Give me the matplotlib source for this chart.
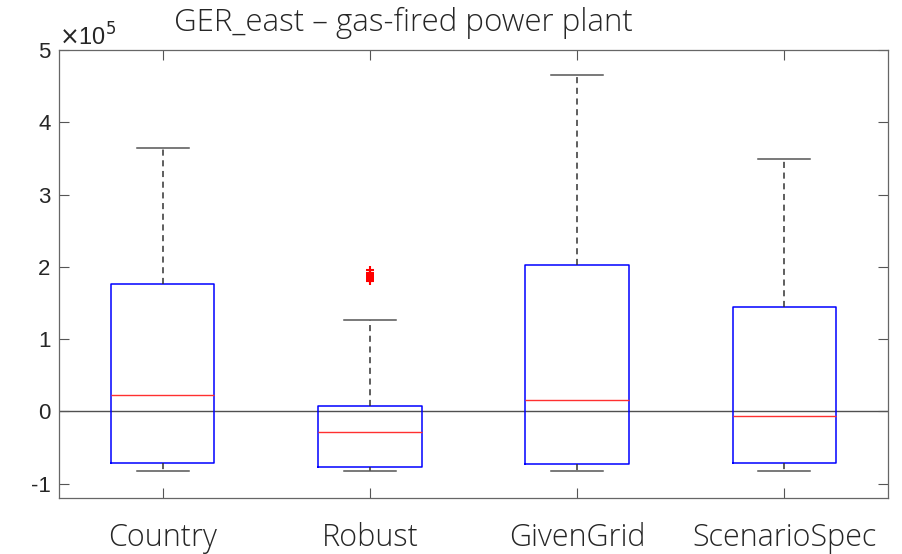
import matplotlib
matplotlib.use('Agg')
from matplotlib import pyplot as plt

# Box statistics per scenario (units of 1e5)
scenarios = ['Country', 'Robust', 'GivenGrid', 'ScenarioSpec']
whisker_low = [-0.82, -0.82, -0.82, -0.82]
quartile_1 = [-0.72, -0.77, -0.73, -0.72]
medians = [0.22, -0.29, 0.15, -0.07]
quartile_3 = [1.76, 0.08, 2.03, 1.45]
whisker_high = [3.64, 1.27, 4.65, 3.49]
outliers = [[], [1.80, 1.83, 1.86, 1.89, 1.92, 1.95], [], []]

stats = []
for i, name in enumerate(scenarios):
    stats.append({'label': name, 'whislo': whisker_low[i], 'q1': quartile_1[i],
                  'med': medians[i], 'q3': quartile_3[i],
                  'whishi': whisker_high[i], 'fliers': outliers[i]})

fig = plt.figure(figsize=(9.03, 5.54), dpi=100)
ax = fig.add_axes([59 / 903, 1 - 498 / 554, 829 / 903, 448 / 554])

ax.axhline(0, color='#505050', lw=1.0, zorder=1)
ax.bxp(stats, positions=[1, 2, 3, 4], widths=0.5, showfliers=True,
       boxprops=dict(color='#0000ff', lw=1.1),
       medianprops=dict(color='#ff3030', lw=1.0),
       whiskerprops=dict(color='#333333', lw=1.1, linestyle=(0, (4, 3))),
       capprops=dict(color='#555555', lw=1.1),
       capwidths=0.25,
       flierprops=dict(marker='+', markeredgecolor='#ff0000', markersize=6, mew=1.5))

ax.set_xlim(0.5, 4.5)
ax.set_ylim(-1.2, 5)
ax.set_yticks([-1, 0, 1, 2, 3, 4, 5])
ax.set_yticklabels(['-1', '0', '1', '2', '3', '4', '5'],
                   fontsize=16, family='Liberation Sans', color='#262626')
ax.set_xticks([1, 2, 3, 4])
ax.set_xticklabels(scenarios, fontsize=22, family='Open Sans', weight=300,
                   color='#262626')
ax.tick_params(direction='in', top=True, right=True, length=7, color='#555555',
               width=0.8)
ax.tick_params(axis='x', pad=17)
ax.tick_params(axis='y', pad=6)
for sp in ax.spines.values():
    sp.set_color('#666666')
    sp.set_linewidth(0.9)

ax.text(0.0, 0.998, r'$\times$10$^5$', transform=ax.transAxes, fontsize=17,
        family='Liberation Sans', color='#262626', va='bottom', ha='left')
ax.set_title('GER_east \u2013 gas-fired power plant', fontsize=22.5,
             family='Open Sans', weight=300, color='#262626', pad=14, x=0.415)

fig.savefig('out.png', dpi=100)
